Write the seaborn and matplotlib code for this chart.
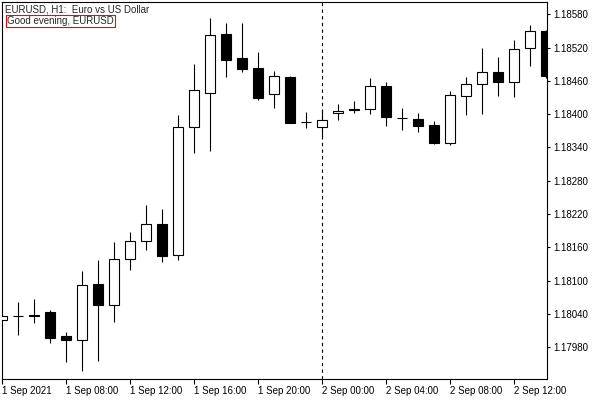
import numpy as np
import pandas as pd
import matplotlib
matplotlib.use("Agg")
import matplotlib.pyplot as plt
import seaborn as sns

# EURUSD H1 candles, 1 Sep 04:00 .. 2 Sep 14:00
opens = [1.18030, 1.18036, 1.18036, 1.18044, 1.18000, 1.17993, 1.18094, 1.18057,
         1.18140, 1.18171, 1.18203, 1.18146, 1.18377, 1.18438, 1.18544, 1.18501,
         1.18483, 1.18437, 1.18467, 1.18385, 1.18376, 1.18402, 1.18407, 1.18410,
         1.18450, 1.18393, 1.18392, 1.18380, 1.18348, 1.18433, 1.18455, 1.18476,
         1.18458, 1.18519, 1.18549]
highs = [1.18038, 1.18062, 1.18067, 1.18048, 1.18008, 1.18117, 1.18137, 1.18170,
         1.18187, 1.18236, 1.18229, 1.18398, 1.18490, 1.18573, 1.18564, 1.18564,
         1.18512, 1.18477, 1.18468, 1.18403, 1.18407, 1.18418, 1.18423, 1.18465,
         1.18458, 1.18411, 1.18402, 1.18387, 1.18441, 1.18467, 1.18519, 1.18503,
         1.18533, 1.18560, 1.18552]
lows = [1.18029, 1.18003, 1.18024, 1.17988, 1.17954, 1.17938, 1.17956, 1.18026,
        1.18120, 1.18156, 1.18134, 1.18138, 1.18330, 1.18334, 1.18467, 1.18476,
        1.18426, 1.18411, 1.18384, 1.18375, 1.18359, 1.18390, 1.18402, 1.18401,
        1.18379, 1.18372, 1.18368, 1.18347, 1.18345, 1.18398, 1.18400, 1.18432,
        1.18431, 1.18487, 1.18466]
closes = [1.18037, 1.18036, 1.18039, 1.17996, 1.17993, 1.18093, 1.18057, 1.18140,
          1.18171, 1.18203, 1.18144, 1.18376, 1.18443, 1.18542, 1.18497, 1.18482,
          1.18429, 1.18468, 1.18384, 1.18385, 1.18389, 1.18405, 1.18410, 1.18450,
          1.18394, 1.18393, 1.18379, 1.18348, 1.18434, 1.18455, 1.18476, 1.18458,
          1.18518, 1.18549, 1.18469]

time_ticks = [0, 4, 8, 12, 16, 20, 24, 28, 32]
time_labels = ["1 Sep 2021", "1 Sep 08:00", "1 Sep 12:00", "1 Sep 16:00",
               "1 Sep 20:00", "2 Sep 00:00", "2 Sep 04:00", "2 Sep 08:00",
               "2 Sep 12:00"]
price_ticks = [1.17980, 1.18040, 1.18100, 1.18160, 1.18220, 1.18280,
               1.18340, 1.18400, 1.18460, 1.18520, 1.18580]
day_break = 20

df = pd.DataFrame({"open": opens, "high": highs, "low": lows, "close": closes})
df["bar"] = np.arange(len(df))
df["up"] = df["close"] >= df["open"]

sns.set_style("white")
plt.rcParams["font.family"] = ["Liberation Sans", "DejaVu Sans"]

fig = plt.figure(figsize=(6, 4), dpi=100)
ax = fig.add_axes([2 / 600, 21 / 400, 545 / 600, 377 / 400])

# wicks
ax.vlines(df["bar"], df["low"], df["high"], color="black", linewidth=0.8, zorder=2)

# bodies
body_bottom = df[["open", "close"]].min(axis=1)
body_height = (df["close"] - df["open"]).abs()
colors = np.where(df["up"], "white", "black")
ax.bar(df["bar"], body_height, bottom=body_bottom, width=0.62,
       color=colors, edgecolor="black", linewidth=0.8, zorder=3)

# day separator
ax.axvline(day_break, color="black", linestyle=(0, (3, 3)), linewidth=0.8, zorder=1)

ax.set_xlim(0, 34.06)
ax.set_ylim(1.17923, 1.18602)

ax.set_xticks(time_ticks)
ax.set_xticklabels(time_labels, ha="left", fontsize=7)
ax.yaxis.tick_right()
ax.set_yticks(price_ticks)
ax.set_yticklabels([f"{p:.5f}" for p in price_ticks], fontsize=7)
ax.tick_params(axis="x", direction="out", length=3.5, width=0.8, pad=1.5,
               bottom=True, colors="black")
ax.tick_params(axis="y", direction="out", length=2.5, width=0.8, pad=2,
               right=True, left=False, colors="black")
for s in ax.spines.values():
    s.set_color("black")
    s.set_linewidth(0.8)
ax.grid(False)

ax.text(5 / 600, 1 - 9 / 400, "EURUSD, H1:  Euro vs US Dollar",
        transform=fig.transFigure, fontsize=7, va="center", ha="left")
ax.text(7 / 600, 1 - 21 / 400, "Good evening, EURUSD",
        transform=fig.transFigure, fontsize=7, va="center", ha="left",
        bbox=dict(boxstyle="square,pad=0.15", facecolor="white",
                  edgecolor="red", linewidth=0.8))

fig.savefig("out.png", dpi=100)
